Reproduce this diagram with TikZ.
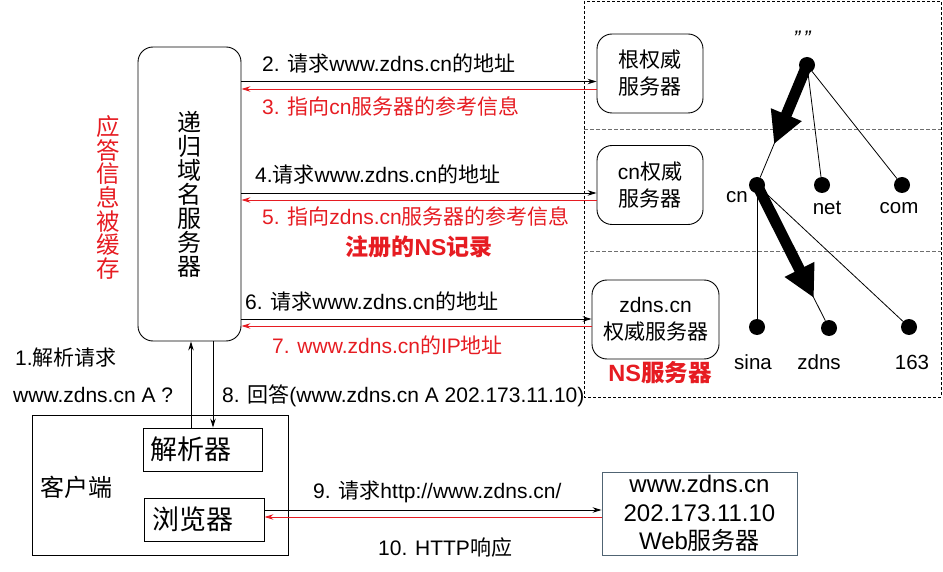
\documentclass[tikz,border=0pt]{standalone}
\usepackage{fontspec}
\setmainfont{Liberation Sans}
\newfontfamily\zh{Noto Sans CJK SC}
\newcommand\zz[1]{{\zh #1}}
\usetikzlibrary{arrows.meta,calc}
\definecolor{myred}{RGB}{230,28,34}
\definecolor{webgray}{RGB}{80,100,115}
\definecolor{divgray}{RGB}{110,110,110}
\tikzset{
  lblfont/.style={font=\fontsize{21}{25}\selectfont},
  lbl/.style={lblfont, anchor=base west, inner sep=0pt},
  rlbl/.style={lbl, text=myred},
  rbox/.style={draw, rounded corners=15pt, line width=0.9pt, align=center},
  sbox/.style={draw, line width=0.9pt},
  req/.style={-{Stealth[length=9pt,width=5.5pt]}, line width=0.9pt},
  resp/.style={req, draw=myred},
  dot/.style={circle, fill=black, minimum size=16pt, inner sep=0pt},
  tlbl/.style={font=\fontsize{20.5}{24}\selectfont, inner sep=0pt},
  bigarrow/.style={line width=11pt, -{Triangle[length=32pt,width=31pt]}},
  treeline/.style={line width=0.8pt},
}
\begin{document}
\begin{tikzpicture}[x=1pt,y=-1pt]
\useasboundingbox (0,0) rectangle (943,572);

% dashed zone
\draw[line width=0.8pt, dash pattern=on 3pt off 2pt] (584,1) rectangle (941,397);
\draw[divgray, line width=0.8pt, dash pattern=on 4pt off 2pt] (584,129) -- (941,129);
\draw[divgray, line width=0.8pt, dash pattern=on 4pt off 2pt] (584,251) -- (941,251);

% recursive server
\node[rbox, minimum width=103pt, minimum height=294pt,
      font=\zh\fontsize{24}{24}\selectfont] (rs) at (189.5,194)
  {递\\归\\域\\名\\服\\务\\器};
\node[text=myred, align=center, font=\zh\fontsize{23.5}{23.6}\selectfont] (cache) at (108,197.5)
  {应\\答\\信\\息\\被\\缓\\存};

% authoritative servers
\node[rbox, minimum width=106pt, minimum height=79pt, font=\fontsize{21}{27}\selectfont] (root) at (650,73.5)
  {\zz{根权威}\\\zz{服务器}};
\node[rbox, minimum width=106pt, minimum height=79pt, font=\fontsize{21}{27}\selectfont] (cnsrv) at (650,185)
  {cn\zz{权威}\\\zz{服务器}};
\node[rbox, minimum width=127pt, minimum height=79pt, font=\fontsize{21}{27}\selectfont] (zdnssrv) at (655.5,319.5)
  {zdns.cn\\\zz{权威服务器}};
\node[text=myred, font=\bfseries\fontsize{23.5}{27}\selectfont] (nslbl) at (660,373) {NS\zz{服务器}};

% client side
\node[sbox, minimum width=256pt, minimum height=140pt] (client) at (160,485) {};
\node[font=\zh\fontsize{24}{28}\selectfont] (clientlbl) at (76,487) {客户端};
\node[sbox, minimum height=43pt, text width=105pt, inner xsep=7pt, align=left,
      font=\zh\fontsize{27}{30}\selectfont] (resolver) at (202.5,449.5) {解析器};
\node[sbox, minimum height=43pt, text width=104pt, inner xsep=8pt, align=left,
      font=\zh\fontsize{27}{30}\selectfont] (browser) at (204,519.5) {浏览器};

% web server
\node[draw=webgray, line width=0.9pt, minimum width=195pt, minimum height=83pt, align=center,
      font=\fontsize{24}{28.5}\selectfont] (web) at (699.5,513.5)
  {www.zdns.cn\\202.173.11.10\\Web\zz{服务器}};

% helper coordinates
\coordinate (y2) at (0,81.5);
\coordinate (y3) at (0,89);
\coordinate (y4) at (0,193);
\coordinate (y5) at (0,200);
\coordinate (y6) at (0,319);
\coordinate (y7) at (0,326);
\coordinate (y9) at (0,510);
\coordinate (y10) at (0,517);
\coordinate (xup) at (191,0);
\coordinate (xdn) at (213,0);

% query/response arrows
\draw[req] (rs.east |- y2) -- (root.west |- y2);
\draw[resp] (root.west |- y3) -- (rs.east |- y3);
\draw[req] (rs.east |- y4) -- (cnsrv.west |- y4);
\draw[resp] (cnsrv.west |- y5) -- (rs.east |- y5);
\draw[req] (rs.east |- y6) -- (zdnssrv.west |- y6);
\draw[resp] (zdnssrv.west |- y7) -- (rs.east |- y7);
\draw[req] (resolver.north -| xup) -- (rs.south -| xup);
\draw[req] (rs.south -| xdn) -- (resolver.north -| xdn);
\draw[req] (browser.east |- y9) -- (web.west |- y9);
\draw[resp] (web.west |- y10) -- (browser.east |- y10);

% labels
\node[lbl] (l2) at (262,72) {2. \zz{请求}www.zdns.cn\zz{的地址}};
\node[rlbl] (l3) at (262,115) {3. \zz{指向}cn\zz{服务器的参考信息}};
\node[lbl] (l4) at (255,183) {4.\zz{请求}www.zdns.cn\zz{的地址}};
\node[rlbl] (l5) at (262,225) {5. \zz{指向}zdns.cn\zz{服务器的参考信息}};
\node[text=myred, font=\bfseries\fontsize{23}{27}\selectfont] (nsrec) at (419,247) {\zz{注册的}NS\zz{记录}};
\node[lbl] (l6) at (245,309) {6. \zz{请求}www.zdns.cn\zz{的地址}};
\node[rlbl] (l7) at (272,353) {7. www.zdns.cn\zz{的}IP\zz{地址}};
\node[lbl] (l1) at (15,365) {1.\zz{解析请求}};
\node[lbl] (l1b) at (13,402) {www.zdns.cn A ?};
\node[lbl] (l8) at (222,402) {8. \zz{回答}(www.zdns.cn A 202.173.11.10)};
\node[lbl] (l9) at (313,498) {9. \zz{请求}http://www.zdns.cn/};
\node[lbl] (l10) at (378,555) {10. HTTP\zz{响应}};

% domain tree
\node[dot] (troot) at (807,65) {};
\node[dot] (tcn) at (757,185) {};
\node[dot] (tnet) at (822,185) {};
\node[dot] (tcom) at (902,185) {};
\node[dot] (tsina) at (757,327) {};
\node[dot] (tzdns) at (829,328) {};
\node[dot] (t163) at (909,327) {};
\node[font=\itshape\fontsize{21}{21}\selectfont] (tq) at (802,38) {\char"22\,\char"22};
\node[tlbl] (lcn) at (737,197) {cn};
\node[tlbl] (lnet) at (827,208) {net};
\node[tlbl] (lcom) at (899,208) {com};
\node[tlbl] (lsina) at (753,362) {sina};
\node[tlbl] (lzdns) at (819,362) {zdns};
\node[tlbl] (l163) at (912,362) {163};

\draw[treeline] (troot) -- (tcn);
\draw[treeline] (troot) -- (tnet);
\draw[treeline] (troot) -- (tcom);
\draw[treeline] (tcn) -- (tsina);
\draw[treeline] (tcn) -- (tzdns);
\draw[treeline] (tcn) -- (t163);
\draw[bigarrow] (troot.center) -- ($(troot)!0.66!(tcn)$);
\draw[bigarrow] (tcn.center) -- ($(tcn)!0.79!(tzdns)$);
\end{tikzpicture}
\end{document}
